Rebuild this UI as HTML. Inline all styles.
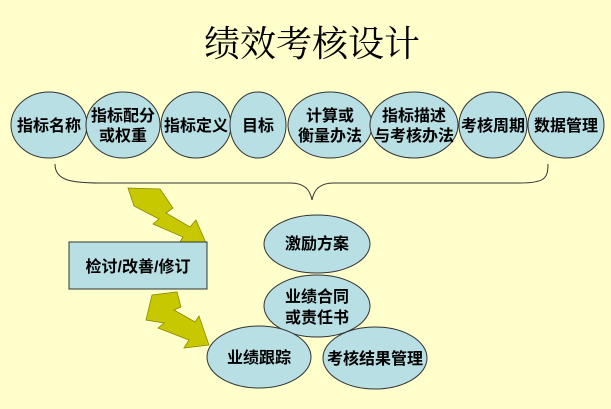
<!DOCTYPE html>
<html><head><meta charset="utf-8"><style>
body{margin:0;background:#ffffcc;}
svg text{font-family:"Liberation Sans","Noto Sans CJK SC",sans-serif;font-weight:bold;fill:#000;}
</style></head><body>
<svg width="611" height="404" viewBox="0 0 611 404" xmlns="http://www.w3.org/2000/svg">
<rect width="611" height="404" fill="#ffffcc"/>
<text x="312" y="56" text-anchor="middle" style="font-size:36px;font-weight:normal;font-family:'Noto Serif CJK SC',serif">绩效考核设计</text>
<g fill="#b7dfe4" stroke="#333" stroke-width="1">
<ellipse cx="49" cy="125" rx="38" ry="33"/>
<ellipse cx="123" cy="125" rx="37" ry="33"/>
<ellipse cx="196" cy="125" rx="35" ry="33"/>
<ellipse cx="258" cy="125" rx="28" ry="33"/>
<ellipse cx="330" cy="125" rx="42" ry="33"/>
<ellipse cx="414" cy="125" rx="44" ry="33"/>
<ellipse cx="493" cy="125" rx="34" ry="33"/>
<ellipse cx="566" cy="125" rx="38" ry="33"/>
</g>
<g font-size="16" text-anchor="middle">
<text x="49" y="131">指标名称</text>
<text x="123" y="121">指标配分</text><text x="123" y="141">或权重</text>
<text x="196" y="131">指标定义</text>
<text x="258" y="131">目标</text>
<text x="330" y="121">计算或</text><text x="330" y="141">衡量办法</text>
<text x="414" y="121">指标描述</text><text x="414" y="141">与考核办法</text>
<text x="493" y="131">考核周期</text>
<text x="566" y="131">数据管理</text>
</g>
<path d="M55,164 C55,180 70,183 100,183 L290,183 C305,183 310,190 312,200 C314,190 319,183 334,183 L520,183 C545,183 548,178 548,164" fill="none" stroke="#333" stroke-width="1"/>
<g fill="#c8c800" stroke="#888800" stroke-width="0.8">
<polygon points="128,188 160,189 173,208 166,213 190,227 196,220 206,243 178,245 183,237 153,224 159,219 134,206"/>
<polygon points="152,295 177,292 181,307 174,310 195,322 199,316 209,345 184,348 189,340 158,328 164,323 146,320"/>
</g>
<rect x="69" y="242" width="138" height="47" fill="#b7dfe4" stroke="#333"/>
<text x="138" y="272" font-size="16" text-anchor="middle">检讨/改善/修订</text>
<g fill="#b7dfe4" stroke="#333">
<ellipse cx="317" cy="244" rx="53" ry="29"/>
<ellipse cx="317" cy="306" rx="53" ry="31"/>
<ellipse cx="259" cy="357" rx="52" ry="31"/>
<ellipse cx="375" cy="358" rx="52" ry="31"/>
</g>
<g font-size="16" text-anchor="middle">
<text x="317" y="249">激励方案</text>
<text x="317" y="302">业绩合同</text><text x="317" y="323">或责任书</text>
<text x="259" y="363">业绩跟踪</text>
<text x="375" y="364">考核结果管理</text>
</g>
</svg>
</body></html>
